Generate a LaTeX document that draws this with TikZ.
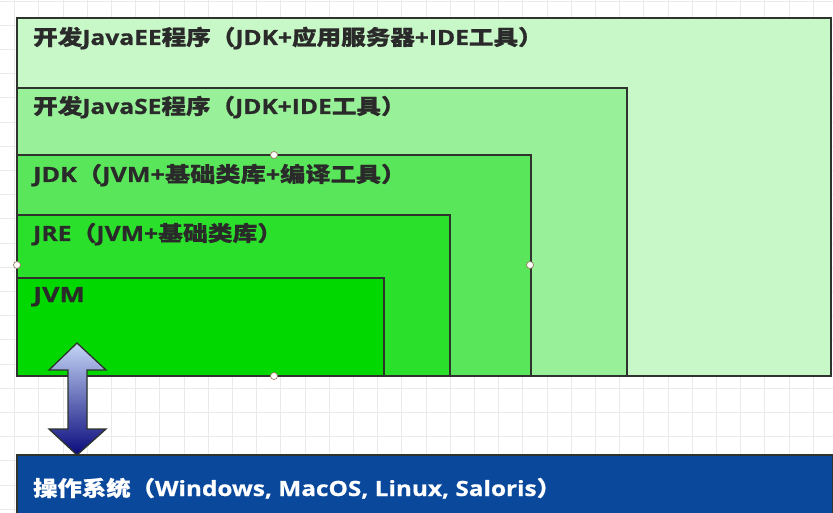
\documentclass[tikz,border=0pt]{standalone}
\usepackage{fontspec}
\newfontfamily\cjk{Noto Sans CJK SC}[BoldFeatures={FakeBold=0.6}]
\newfontfamily\lat{Open Sans}[BoldFeatures={FakeBold=0.6}]
\newcommand{\lt}[1]{{\lat\bfseries #1}}
\definecolor{eeC}{HTML}{C8F7C8}
\definecolor{seC}{HTML}{98F098}
\definecolor{jdkC}{HTML}{5AE65A}
\definecolor{jreC}{HTML}{2AE02A}
\definecolor{jvmC}{HTML}{00D800}
\definecolor{osC}{HTML}{0A489C}
\definecolor{linec}{HTML}{2E332E}
\definecolor{txt}{HTML}{2A2A2A}
\definecolor{gridc}{HTML}{EAEAEA}
\definecolor{handlec}{HTML}{9A7A60}
\definecolor{arrTop}{HTML}{C4D6F6}
\definecolor{arrBot}{HTML}{0A0A7C}
\tikzset{
 layer/.style={draw=linec, line width=2.6pt, anchor=north west, inner sep=0pt, outer sep=0pt},
 lbl/.style={anchor=base west, inner sep=0pt, text=txt, font=\cjk\bfseries\fontsize{21}{25}\selectfont},
 handle/.style={circle, draw=handlec, fill=white, line width=0.7pt, minimum size=7pt, inner sep=0pt},
}
\begin{document}
\begin{tikzpicture}[x=1pt,y=-1pt]
\useasboundingbox (0,0) rectangle (833,513);
\fill[white] (0,0) rectangle (833,513);
\draw[gridc, line width=0.8pt, xstep=24.2pt, ystep=24.2pt, shift={(14.5,1)}] (-14.5,-1) grid (830,520);
\node[layer, fill=eeC, minimum width=814pt, minimum height=358pt] (ee) at (17,18) {};
\node[layer, fill=seC, minimum width=610pt, minimum height=288pt] (se) at (17,88) {};
\node[layer, fill=jdkC, minimum width=514pt, minimum height=221pt] (jdk) at (17,155) {};
\node[layer, fill=jreC, minimum width=433pt, minimum height=161pt] (jre) at (17,215) {};
\node[layer, fill=jvmC, minimum width=367pt, minimum height=98pt] (jvm) at (17,278) {};
\node[layer, fill=osC, line width=1.5pt, minimum width=816pt, minimum height=70pt] (os) at (17,455) {};
\node[lbl] (tee) at (33,45) {\scalebox{1.17}[1]{开发\lt{JavaEE}程序（\lt{JDK+}应用服务器\lt{+IDE}工具）}};
\node[lbl] (tse) at (33,114) {\scalebox{1.17}[1]{开发\lt{JavaSE}程序（\lt{JDK+IDE}工具）}};
\node[lbl] (tjdk) at (33,182) {\scalebox{1.2}[1]{\lt{JDK}（\lt{JVM+}基础类库\lt{+}编译工具）}};
\node[lbl] (tjre) at (33,241) {\scalebox{1.18}[1]{\lt{JRE}（\lt{JVM+}基础类库）}};
\node[lbl] (tjvm) at (33,302) {\scalebox{1.28}[1]{\lt{JVM}}};
\node[lbl, text=white] (tos) at (33,496) {\scalebox{1.16}[1]{操作系统（\lt{Windows, MacOS, Linux, Saloris}）}};
\shade[top color=arrTop, bottom color=arrBot, draw=linec, line width=1.3pt, line join=miter]
 (77,343) -- (106,370) -- (87,370) -- (87,429) -- (106,429) -- (77,455) -- (49,429) -- (68,429) -- (68,370) -- (49,370) -- cycle;
\node[handle] (h1) at (274,155) {};
\node[handle] (h2) at (17,265) {};
\node[handle] (h3) at (530,265) {};
\node[handle] (h4) at (274,376) {};
\end{tikzpicture}
\end{document}
